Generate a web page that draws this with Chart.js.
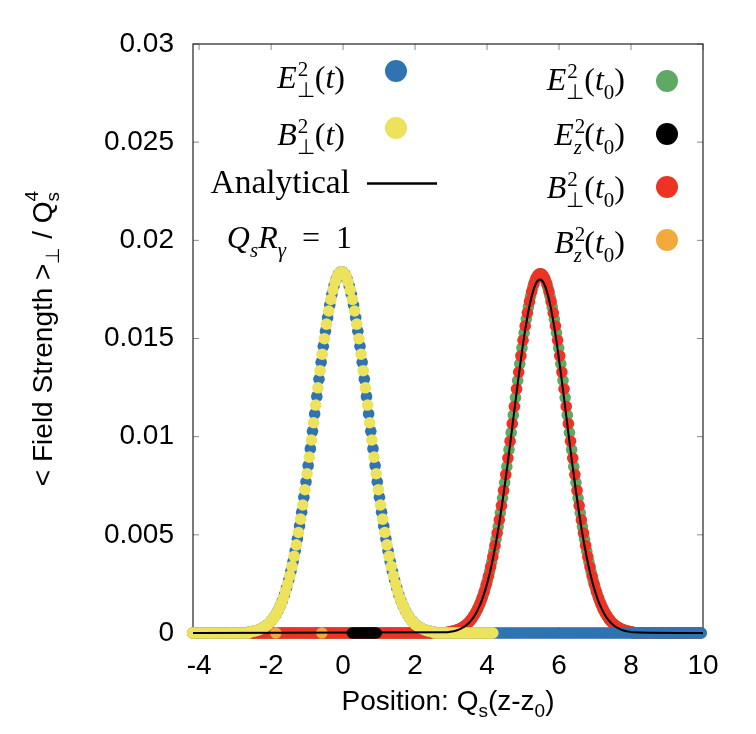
<!DOCTYPE html>
<html>
<head>
<meta charset="utf-8">
<script src="https://cdn.jsdelivr.net/npm/chart.js@4.4.1/dist/chart.umd.min.js"></script>
<style>
  html, body { margin: 0; padding: 0; background: #fff; }
  #wrap { width: 756px; height: 734px; }
</style>
</head>
<body>
<div id="wrap"><canvas id="myChart" width="756" height="734"></canvas></div>
<script>
// lattice spacing of the sampled fields (in units of Q_s z)
const gridStep = 0.06;

const xMin = -4.17, xMax = 10;
const xTickValues = [-4, -2, 0, 2, 4, 6, 8, 10];
const xTickLabels = ['-4', '-2', '0', '2', '4', '6', '8', '10'];
const yTickValues = [0, 0.005, 0.01, 0.015, 0.02, 0.025, 0.03];
const yTickLabels = ['0', '0.005', '0.01', '0.015', '0.02', '0.025', '0.03'];

const seriesNames = ['E⊥²(t)', 'B⊥²(t)', 'E⊥²(t0)', 'Ez²(t0)', 'B⊥²(t0)', 'Bz²(t0)', 'Analytical'];

// E_perp^2(t), first sample at x = -4.15
const ePerpT_x0 = -4.15;
const ePerpT = [
  0,0,0,0,0,0,0,0,0,0, 0,0,0,0,0,0,0,0,0,0, 0,0,0,0,0,0,
  0.00006,0.00008,0.00010,0.00013,0.00016,0.00020,0.00026,0.00033,0.00041,0.00051,
  0.00063,0.00077,0.00094,0.00114,0.00137,0.00164,0.00194,0.00230,0.00270,0.00314,
  0.00364,0.00419,0.00480,0.00545,0.00615,0.00691,0.00770,0.00853,0.00939,0.01027,
  0.01116,0.01205,0.01293,0.01379,0.01460,0.01537,0.01607,0.01670,0.01725,0.01769,
  0.01804,0.01827,0.01839,
  0.01839,0.01827,0.01804,
  0.01769,0.01725,0.01670,0.01607,0.01537,0.01460,0.01379,0.01293,0.01205,0.01116,
  0.01027,0.00939,0.00853,0.00770,0.00691,0.00615,0.00545,0.00480,0.00419,0.00364,
  0.00314,0.00270,0.00230,0.00194,0.00164,0.00137,0.00114,0.00094,0.00077,0.00063,
  0.00051,0.00041,0.00033,0.00026,0.00020,0.00016,0.00013,0.00010,0.00008,0.00006,
  0,0,0,0,0,0,0,0,0,0, 0,0,0,0,0,0,0,0,0,0, 0,0,0,0,0,0,0,0,0,0, 0,0,0,0,0,0,0,0,0,0,
  0,0,0,0,0,0,0,0,0,0, 0,0,0,0,0,0,0,0,0,0, 0,0,0,0,0,0,0,0,0,0, 0,0,0,0,0,0,0,0,0,0,
  0,0,0,0,0,0,0,0,0,0, 0,0,0,0,0,0,0,0,0,0, 0,0,0,0,0,0,0,0,0,0, 0,0,0,0,0,0,0,0,0,0,
  0,0,0,0
];

// B_perp^2(t), first sample at x = -4.18
const bPerpT_x0 = -4.18;
const bPerpT = [
  0,0,0,0,0,0,0,0,0,0, 0,0,0,0,0,0,0,0,0,0, 0,0,0,0,0,0,0,
  0.00007,0.00009,0.00011,0.00014,0.00018,0.00023,0.00029,0.00036,0.00045,0.00056,
  0.00069,0.00085,0.00103,0.00125,0.00150,0.00178,0.00212,0.00249,0.00291,0.00339,
  0.00391,0.00449,0.00512,0.00580,0.00652,0.00730,0.00811,0.00896,0.00983,0.01071,
  0.01161,0.01249,0.01336,0.01420,0.01499,0.01573,0.01640,0.01699,0.01748,0.01788,
  0.01817,0.01834,
  0.01840,
  0.01834,0.01817,
  0.01788,0.01748,0.01699,0.01640,0.01573,0.01499,0.01420,0.01336,0.01249,0.01161,
  0.01071,0.00983,0.00896,0.00811,0.00730,0.00652,0.00580,0.00512,0.00449,0.00391,
  0.00339,0.00291,0.00249,0.00212,0.00178,0.00150,0.00125,0.00103,0.00085,0.00069,
  0.00056,0.00045,0.00036,0.00029,0.00023,0.00018,0.00014,0.00011,0.00009,0.00007,
  0,0,0,0,0,0,0,0,0,0, 0,0,0,0,0,0,0,0,0,0, 0,0,0,0,0,0,0,0
];

// E_perp^2(t0), first sample at x = -4.15
const ePerpT0_x0 = -4.15;
const ePerpT0 = [
  0,0,0,0,0,0,0,0,0,0, 0,0,0,0,0,0,0,0,0,0, 0,0,0,0,0,0,0,0,0,0, 0,0,0,0,0,0,0,0,0,0,
  0,0,0,0,0,0,0,0,0,0, 0,0,0,0,0,0,0,0,0,0, 0,0,0,0,0,0,0,0,0,0, 0,0,0,0,0,0,0,0,0,0,
  0,0,0,0,0,0,0,0,0,0, 0,0,0,0,0,0,0,0,0,0, 0,0,0,0,0,0,0,0,0,0, 0,0,0,0,0,0,0,0,
  0.00006,0.00007,0.00010,0.00012,0.00016,0.00020,0.00026,0.00032,0.00041,0.00051,
  0.00062,0.00076,0.00093,0.00113,0.00136,0.00163,0.00193,0.00228,0.00268,0.00313,
  0.00362,0.00417,0.00477,0.00542,0.00612,0.00687,0.00766,0.00848,0.00934,0.01021,
  0.01110,0.01199,0.01286,0.01371,0.01452,0.01529,0.01599,0.01661,0.01715,0.01760,
  0.01794,0.01817,0.01829,
  0.01829,0.01817,0.01794,
  0.01760,0.01715,0.01661,0.01599,0.01529,0.01452,0.01371,0.01286,0.01199,0.01110,
  0.01021,0.00934,0.00848,0.00766,0.00687,0.00612,0.00542,0.00477,0.00417,0.00362,
  0.00313,0.00268,0.00228,0.00193,0.00163,0.00136,0.00113,0.00093,0.00076,0.00062,
  0.00051,0.00041,0.00032,0.00026,0.00020,0.00016,0.00012,0.00010,0.00007,0.00006,
  0,0,0,0,0,0,0,0,0,0, 0,0,0,0,0,0,0,0,0,0, 0,0,0,0,0,0,0,0,0,0, 0,0
];

// B_perp^2(t0), first sample at x = -4.18
const bPerpT0_x0 = -4.18;
const bPerpT0 = [
  0,0,0,0,0,0,0,0,0,0, 0,0,0,0,0,0,0,0,0,0, 0,0,0,0,0,0,0,0,0,0, 0,0,0,0,0,0,0,0,0,0,
  0,0,0,0,0,0,0,0,0,0, 0,0,0,0,0,0,0,0,0,0, 0,0,0,0,0,0,0,0,0,0, 0,0,0,0,0,0,0,0,0,0,
  0,0,0,0,0,0,0,0,0,0, 0,0,0,0,0,0,0,0,0,0, 0,0,0,0,0,0,0,0,0,0, 0,0,0,0,0,0,0,0,0,
  0.00006,0.00008,0.00011,0.00014,0.00018,0.00023,0.00029,0.00036,0.00045,0.00056,
  0.00069,0.00085,0.00103,0.00124,0.00149,0.00178,0.00210,0.00248,0.00290,0.00337,
  0.00389,0.00446,0.00509,0.00576,0.00649,0.00726,0.00807,0.00891,0.00977,0.01066,
  0.01154,0.01243,0.01329,0.01412,0.01491,0.01564,0.01631,0.01689,0.01739,0.01778,
  0.01807,0.01824,
  0.01830,
  0.01824,0.01807,
  0.01778,0.01739,0.01689,0.01631,0.01564,0.01491,0.01412,0.01329,0.01243,0.01154,
  0.01066,0.00977,0.00891,0.00807,0.00726,0.00649,0.00576,0.00509,0.00446,0.00389,
  0.00337,0.00290,0.00248,0.00210,0.00178,0.00149,0.00124,0.00103,0.00085,0.00069,
  0.00056,0.00045,0.00036,0.00029,0.00023,0.00018,0.00014,0.00011,0.00008,0.00006,
  0,0,0,0,0,0,0,0,0,0, 0,0,0,0,0,0,0,0,0,0, 0,0,0,0,0,0,0,0,0,0, 0,0
];

// longitudinal components at t0 (only the visible samples)
const eZT0_x = [0.26, 0.32, 0.38, 0.44, 0.50, 0.56, 0.62, 0.68, 0.74, 0.80, 0.86, 0.92];
const eZT0 = [0, 0, 0, 0, 0, 0, 0, 0, 0, 0, 0, 0];
const bZT0_x = [-1.87, -0.59];
const bZT0 = [0, 0];

// analytical curve
const analyticX = [
  -4.17,
  2.87, 2.97, 3.07, 3.17, 3.27, 3.37, 3.47, 3.57, 3.67, 3.77, 3.87, 3.97, 4.07, 4.17,
  4.27, 4.37, 4.47, 4.57, 4.67, 4.77, 4.87, 4.97, 5.07, 5.17, 5.27, 5.37, 5.47,
  5.57, 5.67, 5.77, 5.87, 5.97, 6.07, 6.17, 6.27, 6.37, 6.47, 6.57, 6.67, 6.77,
  6.87, 6.97, 7.07, 7.17, 7.27, 7.37, 7.47, 7.57, 7.67, 7.77, 7.87, 7.97, 8.07,
  10
];
const analyticY = [
  0,
  0.00004, 0.00006, 0.00009, 0.00014, 0.00022, 0.00032, 0.00047, 0.00067, 0.00093, 0.00129,
  0.00174, 0.00231, 0.00301, 0.00385, 0.00483, 0.00596, 0.00722, 0.00859, 0.01003, 0.01151,
  0.01296, 0.01433, 0.01555, 0.01658, 0.01735, 0.01784, 0.01800,
  0.01784, 0.01735, 0.01658, 0.01555, 0.01433, 0.01296, 0.01151, 0.01003, 0.00859, 0.00722,
  0.00596, 0.00483, 0.00385, 0.00301, 0.00231, 0.00174, 0.00129, 0.00093, 0.00067, 0.00047,
  0.00032, 0.00022, 0.00014, 0.00009, 0.00006, 0.00004,
  0
];

const colors = {
  ePerpT: '#2f73b3',
  bPerpT: '#ece25c',
  ePerpT0: '#60a964',
  eZT0: '#000000',
  bPerpT0: '#ec3325',
  bZT0: '#f2aa3c',
  analytic: '#000000'
};

const SANS = '"Liberation Sans", Arial, Helvetica, sans-serif';
const SERIF = '"Liberation Serif", "Times New Roman", serif';

function onGrid(x0, values) {
  return values.map((v, i) => ({ x: x0 + i * gridStep, y: v }));
}
function paired(xs, ys) {
  return xs.map((x, i) => ({ x: x, y: ys[i] }));
}
function dots(color) {
  return {
    showLine: false,
    pointRadius: 5.8,
    pointHoverRadius: 5.8,
    pointBorderWidth: 0,
    pointBackgroundColor: color,
    backgroundColor: color,
    borderColor: color,
    clip: false
  };
}

// ---- rich text helpers (sub/superscripts) ----
function pieceWidth(ctx, r) {
  const parts = r.stack || [r];
  let w = 0;
  parts.forEach(p => { ctx.font = p.f; w = Math.max(w, ctx.measureText(p.t).width); });
  return w;
}
function drawRuns(ctx, runs, x, y, align) {
  const total = runs.reduce((w, r) => w + pieceWidth(ctx, r), 0);
  let cx = align === 'right' ? x - total : align === 'center' ? x - total / 2 : x;
  ctx.textAlign = 'left';
  ctx.textBaseline = 'alphabetic';
  runs.forEach(r => {
    const w = pieceWidth(ctx, r);
    (r.stack || [r]).forEach(p => {
      ctx.font = p.f;
      ctx.fillText(p.t, cx + (p.dx || 0), y + (p.dy || 0));
    });
    cx += w;
  });
}

const M = 32, S = 21;
const mI = `italic ${M}px ${SERIF}`, mR = `${M}px ${SERIF}`;
const sI = `italic ${S}px ${SERIF}`, sR = `${S}px ${SERIF}`;
const sup = t => ({ t: t, f: sR, dy: -12, dx: 1 });
const sub = (t, f) => ({ t: t, f: f || sR, dy: 9 });
const argT = [{ t: '(', f: mR }, { t: 't', f: mI }, { t: ')', f: mR }];
const argT0 = [{ t: '(', f: mR }, { t: 't', f: mI }, sub('0'), { t: ')', f: mR }];

const legendEntries = [
  { runs: [{ t: 'E', f: mI }, { stack: [sup('2'), sub('⊥')] }].concat(argT), x: 345, y: 88, dot: [396, 71], color: colors.ePerpT },
  { runs: [{ t: 'B', f: mI }, { stack: [sup('2'), sub('⊥')] }].concat(argT), x: 345, y: 145, dot: [396, 128], color: colors.bPerpT },
  { runs: [{ t: 'Analytical', f: `33.5px ${SERIF}` }], x: 350, y: 193, line: [367, 437, 183.5] },
  { runs: [{ t: 'Q', f: mI }, sub('s', sI), { t: 'R', f: mI }, sub('γ', sI), { t: '\u2002=\u20021', f: mR }], x: 352, y: 248 },
  { runs: [{ t: 'E', f: mI }, { stack: [sup('2'), sub('⊥')] }].concat(argT0), x: 625, y: 90, dot: [667, 81], color: colors.ePerpT0 },
  { runs: [{ t: 'E', f: mI }, { stack: [sup('2'), sub('z', sI)] }].concat(argT0), x: 625, y: 145, dot: [667, 134], color: colors.eZT0 },
  { runs: [{ t: 'B', f: mI }, { stack: [sup('2'), sub('⊥')] }].concat(argT0), x: 625, y: 198, dot: [667, 187], color: colors.bPerpT0 },
  { runs: [{ t: 'B', f: mI }, { stack: [sup('2'), sub('z', sI)] }].concat(argT0), x: 625, y: 253, dot: [667, 240], color: colors.bZT0 }
];

const T = 28, TS = 19;
const tR = `${T}px ${SANS}`, tS = `${TS}px ${SANS}`;
const xTitle = [{ t: 'Position: Q', f: tR }, { t: 's', f: tS, dy: 7 }, { t: '(z-z', f: tR }, { t: '0', f: tS, dy: 7 }, { t: ')', f: tR }];
const yTitle = [{ t: '< Field Strength >', f: tR }, { t: '⊥', f: tS, dy: 7 }, { t: ' / Q', f: tR },
  { stack: [{ t: 's', f: tS, dy: 7 }, { t: '4', f: tS, dy: -14 }] }];

const framePlugin = {
  id: 'frame',
  beforeDatasetsDraw(chart) {
    const { ctx, chartArea: a, scales } = chart;
    ctx.save();
    ctx.strokeStyle = '#888';
    ctx.lineWidth = 1;
    ctx.beginPath();
    xTickValues.forEach(v => {
      const px = scales.x.getPixelForValue(v);
      ctx.moveTo(px, a.top); ctx.lineTo(px, a.top + 6);
      ctx.moveTo(px, a.bottom); ctx.lineTo(px, a.bottom - 6);
    });
    yTickValues.forEach(v => {
      const py = scales.y.getPixelForValue(v);
      ctx.moveTo(a.left, py); ctx.lineTo(a.left + 6, py);
      ctx.moveTo(a.right, py); ctx.lineTo(a.right - 6, py);
    });
    ctx.stroke();
    ctx.strokeStyle = '#333';
    ctx.lineWidth = 1.3;
    ctx.strokeRect(a.left, a.top, a.right - a.left, a.bottom - a.top);
    ctx.restore();
  },
  afterDraw(chart) {
    const { ctx, chartArea: a } = chart;
    ctx.save();
    ctx.fillStyle = '#000';
    legendEntries.forEach(e => {
      drawRuns(ctx, e.runs, e.x, e.y, 'right');
      if (e.dot) {
        ctx.fillStyle = e.color;
        ctx.beginPath();
        ctx.arc(e.dot[0], e.dot[1], 11, 0, Math.PI * 2);
        ctx.fill();
        ctx.fillStyle = '#000';
      }
      if (e.line) {
        ctx.strokeStyle = colors.analytic;
        ctx.lineWidth = 2.5;
        ctx.beginPath();
        ctx.moveTo(e.line[0], e.line[2]);
        ctx.lineTo(e.line[1], e.line[2]);
        ctx.stroke();
      }
    });
    // axis titles
    drawRuns(ctx, xTitle, (a.left + a.right) / 2, 710, 'center');
    ctx.translate(52, (a.top + a.bottom) / 2);
    ctx.rotate(-Math.PI / 2);
    drawRuns(ctx, yTitle, 0, 0, 'center');
    ctx.restore();
  }
};

const ctx = document.getElementById('myChart').getContext('2d');
new Chart(ctx, {
  type: 'scatter',
  data: {
    datasets: [
      Object.assign({ label: seriesNames[6], data: paired(analyticX, analyticY), order: 0,
        showLine: true, borderColor: colors.analytic, borderWidth: 2, pointRadius: 0,
        cubicInterpolationMode: 'monotone', clip: false }),
      Object.assign({ label: seriesNames[5], data: paired(bZT0_x, bZT0), order: 1 }, dots(colors.bZT0)),
      Object.assign({ label: seriesNames[3], data: paired(eZT0_x, eZT0), order: 2 }, dots(colors.eZT0)),
      Object.assign({ label: seriesNames[1], data: onGrid(bPerpT_x0, bPerpT), order: 3 }, dots(colors.bPerpT)),
      Object.assign({ label: seriesNames[0], data: onGrid(ePerpT_x0, ePerpT), order: 4 }, dots(colors.ePerpT)),
      Object.assign({ label: seriesNames[4], data: onGrid(bPerpT0_x0, bPerpT0), order: 5 }, dots(colors.bPerpT0)),
      Object.assign({ label: seriesNames[2], data: onGrid(ePerpT0_x0, ePerpT0), order: 6 }, dots(colors.ePerpT0))
    ]
  },
  options: {
    responsive: false,
    maintainAspectRatio: false,
    animation: false,
    events: [],
    layout: { padding: { top: 44, right: 53, left: 0, bottom: 0 } },
    plugins: { legend: { display: false }, tooltip: { enabled: false } },
    scales: {
      x: {
        type: 'linear',
        min: xMin,
        max: xMax,
        afterBuildTicks: s => { s.ticks = xTickValues.map(v => ({ value: v })); },
        afterFit: s => { s.height = 101; },
        grid: { display: false, drawTicks: false },
        border: { display: false },
        ticks: {
          callback: (v, i) => xTickLabels[i],
          font: { family: SANS, size: T },
          color: '#000',
          padding: 16,
          maxRotation: 0,
          autoSkip: false
        }
      },
      y: {
        min: 0,
        max: 0.03,
        afterBuildTicks: s => { s.ticks = yTickValues.map(v => ({ value: v })); },
        afterFit: s => { s.width = 193; },
        grid: { display: false, drawTicks: false },
        border: { display: false },
        ticks: {
          callback: (v, i) => yTickLabels[i],
          font: { family: SANS, size: T },
          color: '#000',
          padding: 19,
          autoSkip: false
        }
      }
    }
  },
  plugins: [framePlugin]
});
</script>
</body>
</html>
